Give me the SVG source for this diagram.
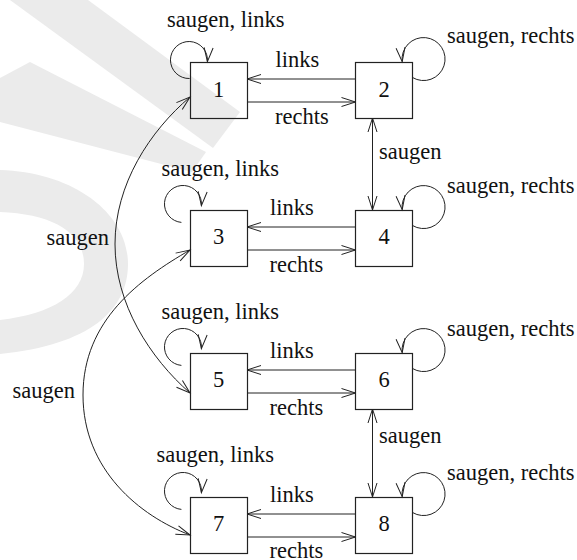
<svg xmlns="http://www.w3.org/2000/svg" width="577" height="560" viewBox="0 0 577 560" font-family="'Liberation Serif', 'Times New Roman', serif">
  <defs>
    <!-- open V arrowhead, used at either end of a connector -->
    <marker id="arr" viewBox="-16 -7 18 14" refX="0" refY="0" markerWidth="18" markerHeight="14" markerUnits="userSpaceOnUse" orient="auto-start-reverse">
      <path d="M-14,-4.5 L0,0 L-14,4.5" fill="none" stroke="#222" stroke-width="1"/>
    </marker>
  </defs>
  <style>
    .box{fill:none;stroke:#222;stroke-width:1.2}
    .edge{fill:none;stroke:#222;stroke-width:1}
    .arrow{marker-end:url(#arr)}
    .both{marker-start:url(#arr);marker-end:url(#arr)}
    text{font-family:'Liberation Serif','Times New Roman',serif;font-size:22.5px;fill:#111}
    .num{text-anchor:middle}
    .wm{fill:#ebebeb}
  </style>

  <rect width="577" height="560" fill="#fff"/>

  <!-- faint background mark -->
  <g id="backdrop">
    <polygon class="wm" points="10,0 88,0 240,112 213,148"/>
    <polygon class="wm" points="0,78 0,122 192,172 206,152 30,62"/>
    <path class="wm" d="M0,170 C72,172 128,212 128,264 C128,310 90,345 0,354 L0,320 C52,314 84,294 84,264 C84,232 52,214 0,212 Z"/>
  </g>

  <!-- connectors -->
  <g id="connectors">
    <!-- row 1 -->
    <path class="edge arrow" d="M355.5,79 L247,79"/>
    <path class="edge arrow" d="M247,102 L355.5,102"/>
    <path class="edge arrow" d="M189.6,78.5 A18.5,18.5 0 1 1 207.4,61.6"/>
    <path class="edge arrow" d="M412.5,77.5 A21.5,21.5 0 1 0 402.2,61.6"/>
    <!-- row 2 -->
    <path class="edge arrow" d="M355.5,227 L247,227"/>
    <path class="edge arrow" d="M247,250 L355.5,250"/>
    <path class="edge arrow" d="M181.4,222.4 A18.5,18.5 0 1 1 201.4,205.6"/>
    <path class="edge arrow" d="M412.5,225.5 A21.5,21.5 0 1 0 402.2,209.6"/>
    <!-- row 3 -->
    <path class="edge arrow" d="M355.5,370 L247,370"/>
    <path class="edge arrow" d="M247,393 L355.5,393"/>
    <path class="edge arrow" d="M181.4,365.4 A18.5,18.5 0 1 1 201.4,348.6"/>
    <path class="edge arrow" d="M412.5,368.5 A21.5,21.5 0 1 0 402.2,352.6"/>
    <!-- row 4 -->
    <path class="edge arrow" d="M355.5,514 L247,514"/>
    <path class="edge arrow" d="M247,537 L355.5,537"/>
    <path class="edge arrow" d="M181.4,509.4 A18.5,18.5 0 1 1 201.4,492.6"/>
    <path class="edge arrow" d="M412.5,512.5 A21.5,21.5 0 1 0 402.2,496.6"/>
    <!-- vertical saugen links -->
    <path class="edge both" d="M372.5,118 L372.5,210"/>
    <path class="edge both" d="M372.5,409 L372.5,497"/>
    <!-- long curved saugen links -->
    <path class="edge both" d="M190,97 C150,131 115,184 115,244 C115,304 150,358 190,393"/>
    <path class="edge both" d="M190,250 C140,279 83,320 83,395 C83,470 140,516 190,535"/>
  </g>

  <!-- states -->
  <g id="n1"><rect class="box" x="190.5" y="62.5" width="57" height="56"/><text class="num" x="218.5" y="97">1</text></g>
  <g id="n2"><rect class="box" x="355.5" y="62.5" width="57" height="56"/><text class="num" x="384" y="97">2</text></g>
  <g id="n3"><rect class="box" x="190.5" y="210.5" width="57" height="56"/><text class="num" x="218.5" y="244">3</text></g>
  <g id="n4"><rect class="box" x="355.5" y="210.5" width="57" height="56"/><text class="num" x="384" y="244">4</text></g>
  <g id="n5"><rect class="box" x="190.5" y="353.5" width="57" height="56"/><text class="num" x="218.5" y="387">5</text></g>
  <g id="n6"><rect class="box" x="355.5" y="353.5" width="57" height="56"/><text class="num" x="384" y="387">6</text></g>
  <g id="n7"><rect class="box" x="190.5" y="497.5" width="57" height="56"/><text class="num" x="218.5" y="531">7</text></g>
  <g id="n8"><rect class="box" x="355.5" y="497.5" width="57" height="56"/><text class="num" x="384" y="531">8</text></g>

  <!-- edge labels -->
  <g id="labels">
    <text x="167" y="27">saugen, links</text>
    <text x="275.5" y="67">links</text>
    <text x="275" y="124">rechts</text>
    <text x="447" y="43">saugen, rechts</text>
    <text x="379" y="159">saugen</text>

    <text x="161.5" y="176">saugen, links</text>
    <text x="447" y="193">saugen, rechts</text>
    <text x="270" y="215">links</text>
    <text x="269.5" y="272">rechts</text>
    <text x="46.5" y="245">saugen</text>

    <text x="161.5" y="319">saugen, links</text>
    <text x="447" y="336">saugen, rechts</text>
    <text x="270" y="358">links</text>
    <text x="269.5" y="415">rechts</text>
    <text x="12.5" y="398">saugen</text>
    <text x="379" y="443">saugen</text>

    <text x="156.5" y="462">saugen, links</text>
    <text x="447" y="480">saugen, rechts</text>
    <text x="270" y="502">links</text>
    <text x="269.5" y="558">rechts</text>
  </g>
</svg>
